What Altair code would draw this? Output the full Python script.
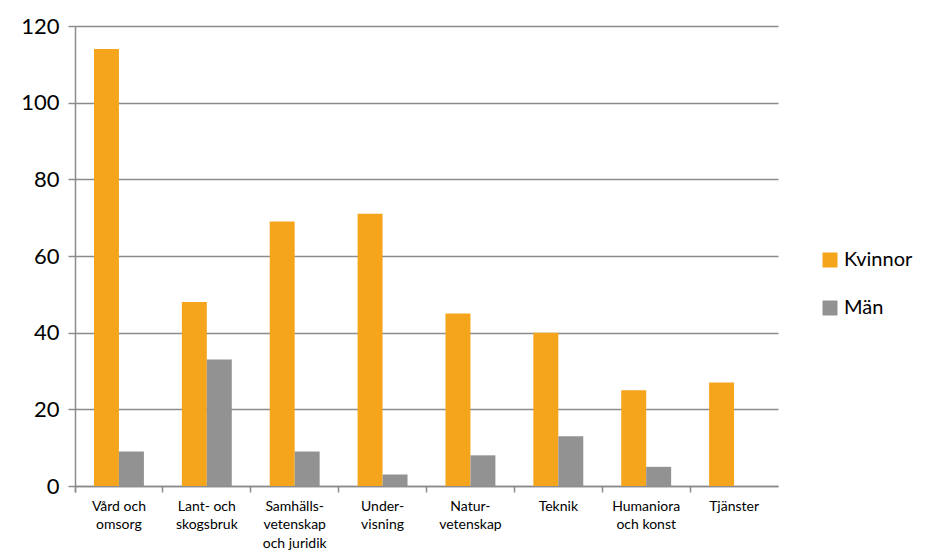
import altair as alt
import pandas as pd

categories = ["Vård och|omsorg", "Lant- och|skogsbruk", "Samhälls-|vetenskap|och juridik",
              "Under-|visning", "Natur-|vetenskap", "Teknik", "Humaniora|och konst", "Tjänster"]
kvinnor = [114, 48, 69, 71, 45, 40, 25, 27]
man = [9, 33, 9, 3, 8, 13, 5, 0]
series = ["Kvinnor", "Män"]
colors = ["#F4A51C", "#929292"]

rows = []
for c, k, m in zip(categories, kvinnor, man):
    rows.append({"cat": c, "serie": "Kvinnor", "val": k})
    rows.append({"cat": c, "serie": "Män", "val": m})
df = pd.DataFrame(rows)

FONT = "Lato"
W, H = 703, 460

chart = alt.Chart(df).mark_bar().encode(
    x=alt.X("cat:N", sort=categories, title=None,
            scale=alt.Scale(paddingInner=0, paddingOuter=0),
            axis=alt.Axis(bandPosition=0, labelAngle=0, labelExpr="split(datum.label, '|')",
                          labelFont=FONT, labelFontSize=14, labelColor="#000000",
                          labelLineHeight=18.5, labelPadding=7, labelBaseline="top",
                          tickSize=6, tickColor="#8C8C8C", domainColor="#8C8C8C",
                          domainWidth=1.5, tickWidth=1.5, tickExtra=True,
                          grid=False)),
    xOffset=alt.XOffset("serie:N", sort=series,
                        scale=alt.Scale(paddingOuter=0.76, paddingInner=0)),
    y=alt.Y("val:Q", title=None,
            scale=alt.Scale(domain=[0, 120], nice=False),
            axis=alt.Axis(values=[0, 20, 40, 60, 80, 100, 120], labelFont=FONT,
                          labelFontSize=22, labelColor="#000000", labelPadding=9,
                          tickSize=7, tickColor="#8C8C8C", domainColor="#8C8C8C",
                          domainWidth=1.5, tickWidth=1.5,
                          grid=True, gridColor="#8C8C8C", gridWidth=1.5)),
    color=alt.Color("serie:N", sort=series, title=None,
                    scale=alt.Scale(domain=series, range=colors),
                    legend=alt.Legend(orient="none", legendX=745, legendY=224,
                                      symbolType="square", symbolSize=225,
                                      symbolStrokeWidth=0, labelFont=FONT,
                                      labelFontSize=20, labelColor="#000000",
                                      rowPadding=28, labelOffset=4)),
).properties(
    width=W, height=H,
    background="#ffffff",
    autosize=alt.AutoSizeParams(type="none"),
    padding={"left": 67, "top": 18, "right": 141, "bottom": 64},
).configure_view(strokeWidth=0, stroke="transparent")

chart.save("out.html", embed_options={"renderer": "svg", "actions": False})
